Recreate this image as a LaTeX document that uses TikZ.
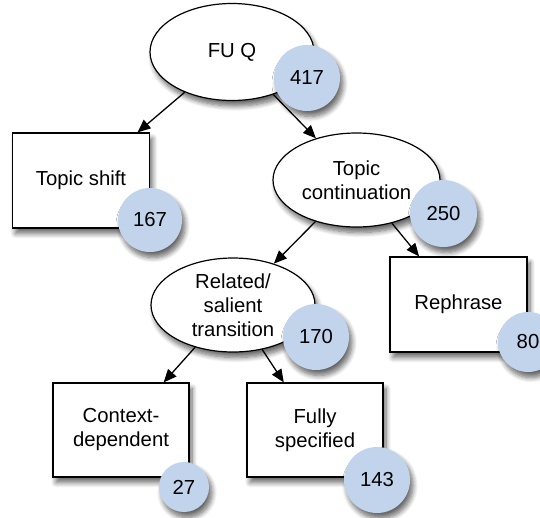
\documentclass[tikz,border=0pt]{standalone}
\usepackage{fontspec}
\setmainfont{Liberation Sans}
\usetikzlibrary{shapes.geometric,arrows.meta,shadows.blur}
\definecolor{tallyblue}{RGB}{193,212,236}
\begin{document}
\begin{tikzpicture}[x=1pt,y=-1pt,
	every node/.style={font=\fontsize{20.3}{24}\selectfont},
	lifted/.style={blur shadow={shadow xshift=3pt,shadow yshift=-5.5pt,shadow blur radius=5pt,shadow blur steps=8,shadow opacity=60}},
	choice/.style={ellipse,draw,line width=1.2pt,fill=white,align=center,inner sep=0pt,lifted},
	leaf/.style={rectangle,draw,line width=1.2pt,fill=white,align=center,minimum width=136pt,minimum height=94pt,lifted},
	tally/.style={circle,fill=tallyblue,inner sep=0pt,lifted},
	branch/.style={-{Triangle[length=13pt,width=11pt]},line width=1.3pt}]
		\useasboundingbox (0,0) rectangle (540,517);
		\node[choice,minimum width=164pt,minimum height=97pt] (fuq) at (232,52) {FU Q};
		\node[leaf,minimum width=137pt,minimum height=95pt] (shift) at (81,180.5) {Topic shift};
		\node[choice,minimum width=167pt,minimum height=94pt] (cont) at (356.5,180) {Topic\\continuation};
		\node[choice,minimum width=164pt,minimum height=94pt] (rel) at (233,305) {Related/\\salient\\transition};
		\node[leaf,minimum width=137pt,minimum height=95pt] (reph) at (458.5,304.5) {Rephrase};
		\node[leaf] (ctx) at (121,430) {Context-\\dependent};
		\node[leaf] (full) at (315,430) {Fully\\specified};
		\draw[branch] (fuq)--(shift);
		\draw[branch] (fuq)--(cont);
		\draw[branch] (cont)--(rel);
		\draw[branch] (cont)--(reph);
		\draw[branch] (rel)--(ctx);
		\draw[branch] (rel)--(full);
		\node[tally,minimum size=66pt] (n417) at (307,78) {417};
		\node[tally,minimum size=64pt] (n167) at (150,220) {167};
		\node[tally,minimum size=67pt] (n250) at (443.5,213.5) {250};
		\node[tally,minimum size=66pt] (n170) at (316,337) {170};
		\node[tally,minimum size=60pt] (n80) at (528,342) {80};
		\node[tally,minimum size=50pt] (n27) at (184,487) {27};
		\node[tally,minimum size=66pt] (n143) at (377,480) {143};
	\end{tikzpicture}
\end{document}
